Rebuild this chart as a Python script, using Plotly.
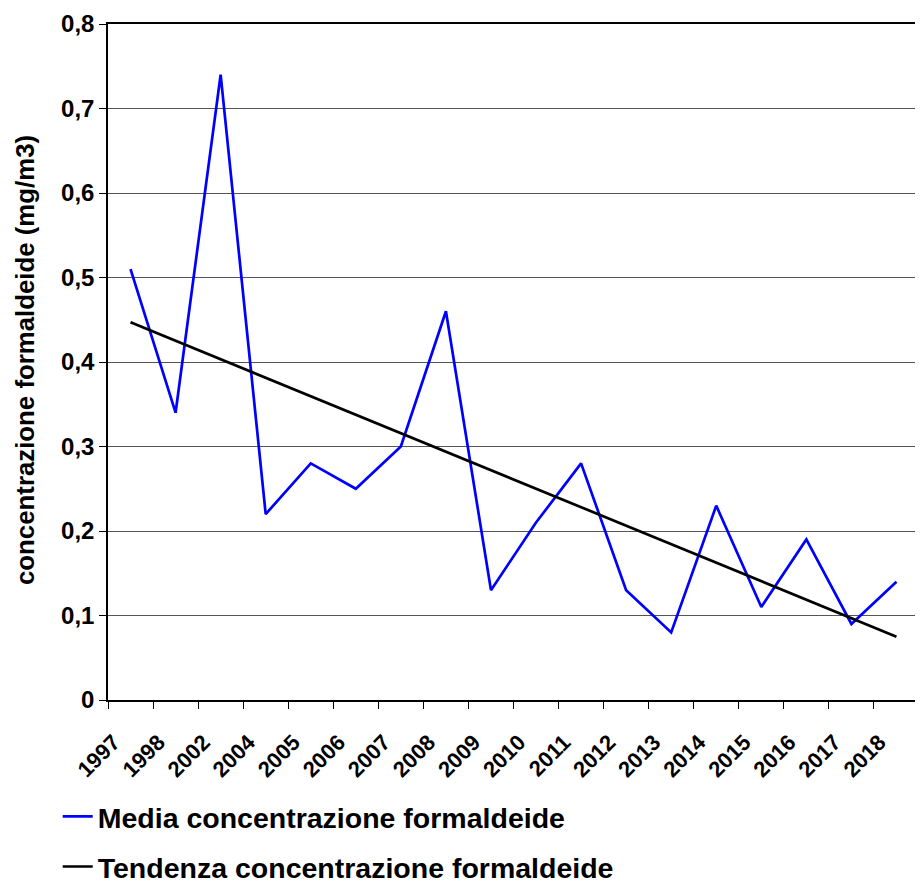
import plotly.graph_objects as go

years = ["1997", "1998", "2002", "2004", "2005", "2006", "2007", "2008", "2009",
         "2010", "2011", "2012", "2013", "2014", "2015", "2016", "2017", "2018"]
media = [0.51, 0.34, 0.74, 0.22, 0.28, 0.25, 0.30, 0.46, 0.13,
         0.21, 0.28, 0.13, 0.08, 0.23, 0.11, 0.19, 0.09, 0.14]
trend_years = ["1997", "2018"]
trend_values = [0.447, 0.075]
y_tickvals = [0, 0.1, 0.2, 0.3, 0.4, 0.5, 0.6, 0.7, 0.8]
y_ticktext = ["0", "0,1", "0,2", "0,3", "0,4", "0,5", "0,6", "0,7", "0,8"]
y_title = "concentrazione formaldeide (mg/m3)"

FONT = "Liberation Sans, Arial, sans-serif"

fig = go.Figure()
fig.add_trace(go.Scatter(x=years, y=media, mode="lines",
                         name="Media concentrazione formaldeide",
                         line=dict(color="#0000FF", width=2.7), legend="legend"))
fig.add_trace(go.Scatter(x=trend_years, y=trend_values, mode="lines",
                         name="Tendenza concentrazione formaldeide",
                         line=dict(color="#000000", width=2.7), legend="legend2"))

legend_common = dict(font=dict(family=FONT, size=28.5, color="black", weight="bold"),
                     bgcolor="rgba(0,0,0,0)", itemwidth=30,
                     xanchor="left", yanchor="middle", x=-0.062)
fig.update_layout(
    width=915, height=880,
    margin=dict(l=100, r=4, t=16, b=188, autoexpand=False),
    plot_bgcolor="white", paper_bgcolor="white",
    font=dict(family=FONT, color="black"),
    showlegend=True,
    legend=dict(**legend_common, y=-0.173),
    legend2=dict(**legend_common, y=-0.247),
    xaxis=dict(type="category", categoryorder="array", categoryarray=years,
               range=[-0.5, len(years) - 0.5], automargin=False,
               tickson="boundaries", ticks="outside", ticklen=7, tickcolor="black",
               showline=True, linecolor="black", linewidth=1.5, mirror=True,
               showgrid=False, tickangle=-45, ticklabelstandoff=19, ticklabelshift=-17,
               tickfont=dict(family=FONT, size=22, color="black", weight="bold")),
    yaxis=dict(range=[0, 0.8], tickvals=y_tickvals, ticktext=y_ticktext, automargin=False,
               ticks="outside", ticklen=7, tickcolor="black",
               showline=True, linecolor="black", linewidth=1.5, mirror=True,
               showgrid=True, gridcolor="#555555", gridwidth=1, zeroline=False,
               tickfont=dict(family=FONT, size=24, color="black", weight="bold")),
    annotations=[dict(text=y_title, xref="paper", yref="paper", x=-0.1023, y=0.503,
                      xanchor="center", yanchor="middle", textangle=-90, showarrow=False,
                      font=dict(family=FONT, size=25.8, color="black", weight="bold"))],
)

fig.write_html("out.html")
